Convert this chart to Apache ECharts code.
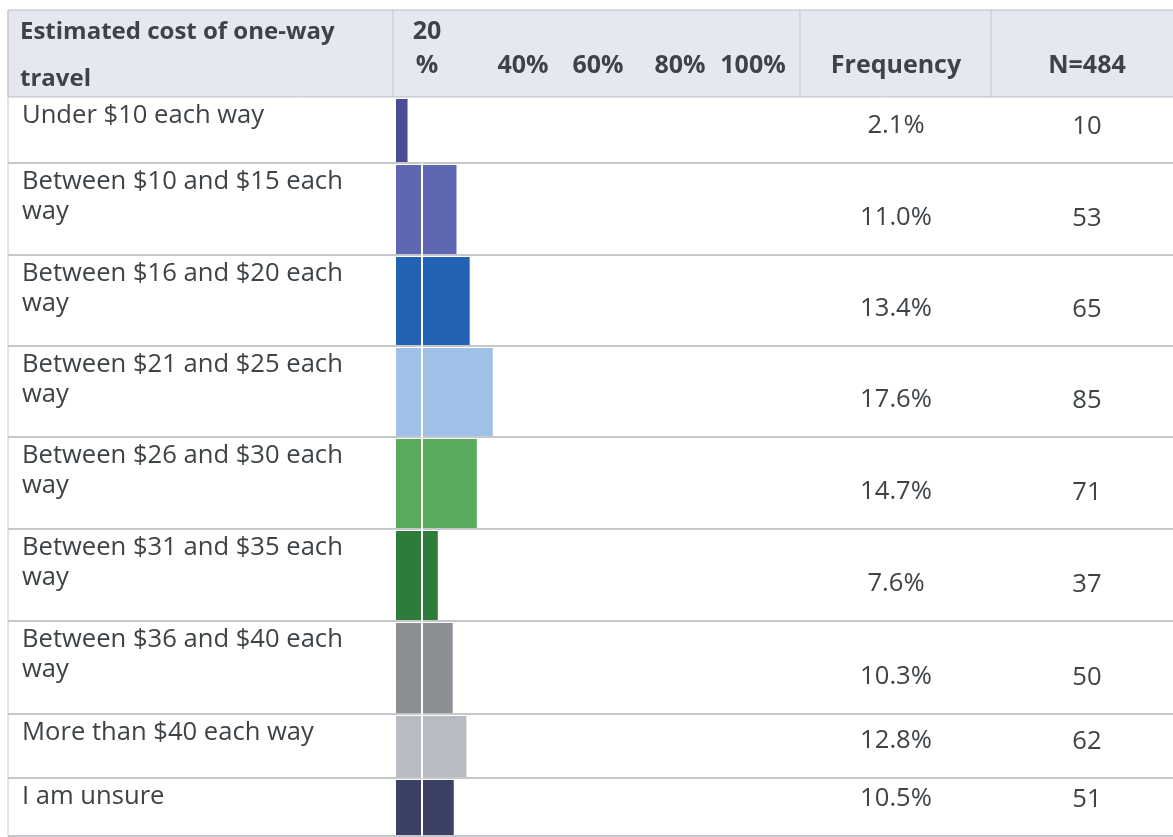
<!DOCTYPE html>
<html>
<head>
<meta charset="utf-8">
<title>Estimated cost of one-way travel</title>
<script src="https://cdn.jsdelivr.net/npm/echarts@6/dist/echarts.min.js"></script>
<style>
  html, body { margin: 0; padding: 0; background: #ffffff; }
  #chart { width: 1173px; height: 837px; }
</style>
</head>
<body>
<div id="chart"></div>
<script>
// ---- data ----
const categories = [
  'Under $10 each way',
  'Between $10 and $15 each way',
  'Between $16 and $20 each way',
  'Between $21 and $25 each way',
  'Between $26 and $30 each way',
  'Between $31 and $35 each way',
  'Between $36 and $40 each way',
  'More than $40 each way',
  'I am unsure'
];
const frequency = [2.1, 11.0, 13.4, 17.6, 14.7, 7.6, 10.3, 12.8, 10.5];
const counts = [10, 53, 65, 85, 71, 37, 50, 62, 51];
const tickLabels = ['20\n%', '40%', '60%', '80%', '100%'];
const headerTitle = 'Estimated cost of one-way\ntravel';
const headerFreq = 'Frequency';
const headerN = 'N=484';

// ---- layout and styles ----
const barColors = ['#4a4d95', '#5f66b2', '#2363b5', '#9fc1e8', '#5aaa5c', '#2f7b3a', '#8b8f93', '#b8bbc1', '#3b4065'];
const rowEdges = [97, 163, 255, 346, 437, 529, 621, 714, 778, 836];
const tickX = [427, 523, 598, 680, 753];
const FONT = '"Open Sans", "Liberation Sans", sans-serif';
const TEXT = '#3d4347';
const LINE = '#b3b5ba';
const freqX = 896;
const countX = 1087;

const chart = echarts.init(document.getElementById('chart'), null, { renderer: 'canvas' });

const graphics = [];
// header band
graphics.push({
  type: 'rect', z: 1,
  shape: { x: 8, y: 10, width: 1170, height: 87 },
  style: { fill: '#e5e8f0', stroke: '#b9bcc4', lineWidth: 1 }
});
[393, 800, 991].forEach(x => graphics.push({
  type: 'line', z: 2,
  shape: { x1: x, y1: 10, x2: x, y2: 97 },
  style: { stroke: '#c2c5cc', lineWidth: 1 }
}));
graphics.push({
  type: 'text', z: 3,
  style: {
    text: headerTitle, x: 20, y: 9, fill: TEXT,
    font: 'bold 24px ' + FONT, lineHeight: 47, textAlign: 'left', textVerticalAlign: 'top'
  }
});
tickLabels.forEach((t, i) => graphics.push({
  type: 'text', z: 3,
  style: {
    text: t, x: tickX[i], y: 83, fill: TEXT,
    font: 'bold 25px ' + FONT, lineHeight: 34,
    textAlign: 'center', textVerticalAlign: 'bottom'
  }
}));
graphics.push({
  type: 'text', z: 3,
  style: { text: headerFreq, x: freqX, y: 66, fill: TEXT, font: 'bold 25px ' + FONT, textAlign: 'center', textVerticalAlign: 'middle' }
});
graphics.push({
  type: 'text', z: 3,
  style: { text: headerN, x: countX, y: 66, fill: TEXT, font: 'bold 25px ' + FONT, textAlign: 'center', textVerticalAlign: 'middle' }
});
// table rules
rowEdges.forEach((y, i) => {
  if (i === 0) return;
  graphics.push({
    type: 'line', z: 2,
    shape: { x1: 8, y1: y, x2: 1173, y2: y },
    style: { stroke: LINE, lineWidth: 1.5 }
  });
});
graphics.push({
  type: 'line', z: 2,
  shape: { x1: 8, y1: 10, x2: 8, y2: 836 },
  style: { stroke: '#c8cacf', lineWidth: 1 }
});
// cell border running through the bar column
graphics.push({
  type: 'rect', z: 50,
  shape: { x: 421, y: 163, width: 2, height: 673 },
  style: { fill: '#ffffff' }
});

function renderRow(params, api) {
  const i = params.dataIndex;
  const x0 = api.coord([0, i])[0];
  const x1 = api.coord([api.value(0), i])[0];
  const top = rowEdges[i];
  const bottom = rowEdges[i + 1];
  return {
    type: 'group',
    children: [
      {
        type: 'rect',
        shape: { x: x0, y: top + 2, width: x1 - x0, height: bottom - top - 3 },
        style: { fill: barColors[i] }
      },
      {
        type: 'text',
        style: {
          text: categories[i], x: 22, y: top + 4, fill: TEXT,
          font: '25.6px ' + FONT, lineHeight: 30,
          width: 360, overflow: 'break',
          textAlign: 'left', textVerticalAlign: 'top'
        }
      },
      {
        type: 'text',
        style: {
          text: api.value(0).toFixed(1) + '%', x: freqX, y: bottom - 37, fill: TEXT,
          font: '25.6px ' + FONT, textAlign: 'center', textVerticalAlign: 'middle'
        }
      },
      {
        type: 'text',
        style: {
          text: String(counts[i]), x: countX, y: bottom - 36, fill: TEXT,
          font: '25.6px ' + FONT, textAlign: 'center', textVerticalAlign: 'middle'
        }
      }
    ]
  };
}

chart.setOption({
  animation: false,
  backgroundColor: '#ffffff',
  grid: { left: 396, top: 97, width: 550, height: 739 },
  xAxis: { type: 'value', min: 0, max: 100, show: false },
  yAxis: { type: 'category', data: categories, inverse: true, show: false },
  graphic: graphics,
  series: [{
    type: 'custom',
    clip: false,
    z: 10,
    encode: { x: 0, y: 1 },
    data: frequency.map((v, i) => [v, i]),
    renderItem: renderRow
  }]
});
</script>
</body>
</html>
